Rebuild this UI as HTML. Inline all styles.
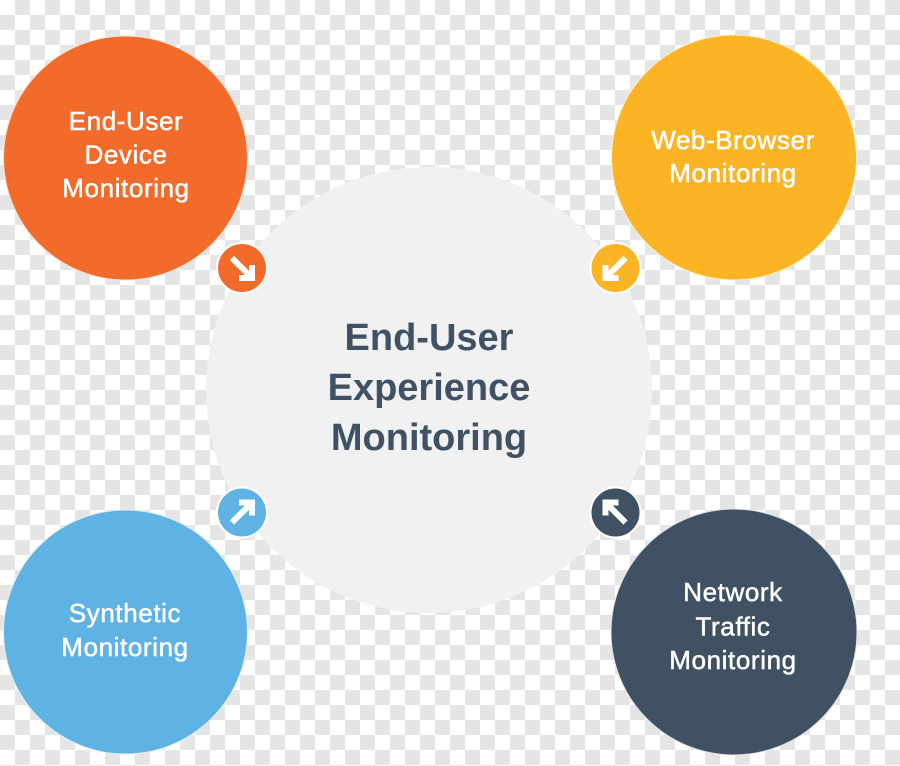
<!DOCTYPE html>
<html>
<head>
<meta charset="utf-8">
<style>
  html,body{margin:0;padding:0;width:900px;height:766px;overflow:hidden;background:#fff;}
  svg{display:block;}
  .lbl{font-family:"Liberation Sans",sans-serif;font-size:26px;fill:#fff;stroke:#fff;stroke-width:0.5px;letter-spacing:0.6px;text-anchor:middle;}
  .ctr{font-family:"Liberation Sans",sans-serif;font-size:38px;font-weight:bold;fill:#3f5163;text-anchor:middle;}
</style>
</head>
<body>
<svg width="900" height="766" viewBox="0 0 900 766" xmlns="http://www.w3.org/2000/svg">
  <defs>
    <pattern id="chk" x="0" y="0" width="30" height="30" patternUnits="userSpaceOnUse">
      <rect x="0" y="0" width="30" height="30" fill="#ffffff"/>
      <rect x="15" y="0" width="15" height="15" fill="#e5e5e5"/>
      <rect x="0" y="15" width="15" height="15" fill="#e5e5e5"/>
    </pattern>
  </defs>
  <rect x="0" y="0" width="900" height="766" fill="url(#chk)"/>

  <!-- center circle -->
  <circle cx="429" cy="390" r="223" fill="#f1f1f1"/>

  <!-- outer circles -->
  <circle cx="125.5" cy="158" r="122" fill="#f26b2a" stroke="#f7e3d8" stroke-width="1"/>
  <circle cx="734" cy="157.5" r="122.5" fill="#fbb424" stroke="#fbefd6" stroke-width="1"/>
  <circle cx="125.5" cy="632" r="122" fill="#5eb3e4" stroke="#e2eef6" stroke-width="1"/>
  <circle cx="734" cy="632" r="123" fill="#3f5163" stroke="#e3e5e8" stroke-width="1"/>

  <!-- labels -->
  <text class="lbl" x="126" y="130">End-User</text>
  <text class="lbl" x="126" y="163.5">Device</text>
  <text class="lbl" x="126" y="197">Monitoring</text>

  <text class="lbl" x="733" y="149">Web-Browser</text>
  <text class="lbl" x="733" y="182">Monitoring</text>

  <text class="lbl" x="125" y="622">Synthetic</text>
  <text class="lbl" x="125" y="656">Monitoring</text>

  <text class="lbl" x="733" y="601">Network</text>
  <text class="lbl" x="733" y="635.5">Traffic</text>
  <text class="lbl" x="733" y="669">Monitoring</text>

  <text class="ctr" x="429" y="350">End-User</text>
  <text class="ctr" x="429" y="400">Experience</text>
  <text class="ctr" x="429" y="450">Monitoring</text>

  <!-- small arrow circles -->
  <g transform="translate(242,268)">
    <circle r="25" fill="#f26b2a" stroke="#ffffff" stroke-width="2"/>
    <path d="M -10 -10 L 7 7 M 10 -3 L 10 10 L -3 10" fill="none" stroke="#fff" stroke-width="6" stroke-linejoin="miter"/>
  </g>
  <g transform="translate(615.5,268) scale(-1,1)">
    <circle r="25" fill="#fbb424" stroke="#ffffff" stroke-width="2"/>
    <path d="M -10 -10 L 7 7 M 10 -3 L 10 10 L -3 10" fill="none" stroke="#fff" stroke-width="6" stroke-linejoin="miter"/>
  </g>
  <g transform="translate(242,512.5) scale(1,-1)">
    <circle r="25" fill="#5eb3e4" stroke="#ffffff" stroke-width="2"/>
    <path d="M -10 -10 L 7 7 M 10 -3 L 10 10 L -3 10" fill="none" stroke="#fff" stroke-width="6" stroke-linejoin="miter"/>
  </g>
  <g transform="translate(615.5,512.5) scale(-1,-1)">
    <circle r="25" fill="#3f5163" stroke="#ffffff" stroke-width="2"/>
    <path d="M -10 -10 L 7 7 M 10 -3 L 10 10 L -3 10" fill="none" stroke="#fff" stroke-width="6" stroke-linejoin="miter"/>
  </g>
</svg>
</body>
</html>
